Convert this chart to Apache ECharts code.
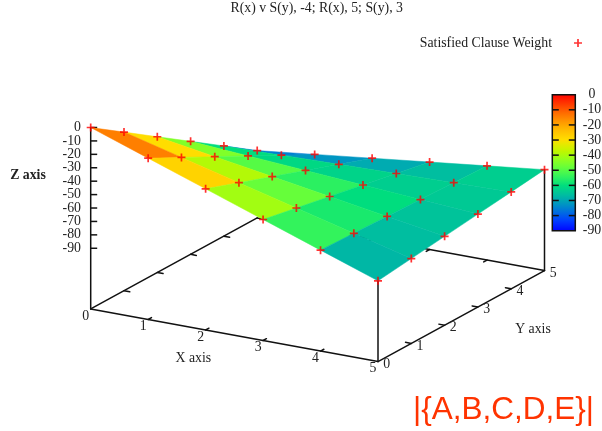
<!DOCTYPE html>
<html>
<head>
<meta charset="utf-8">
<style>html,body{margin:0;padding:0;background:#fff}#chart{width:602px;height:431px}</style>
<script src="https://cdn.jsdelivr.net/npm/echarts@6/dist/echarts.min.js"></script>
</head>
<body>
<div id="chart"></div>
<script>
// ---- data ----
const xValues = [0, 1, 2, 3, 4, 5];
const yValues = [0, 1, 2, 3, 4, 5];
const zAtY0 = [0, -15, -30, -45, -60, -75];
const zAtY1 = [-17, -28, -39, -50, -61, -72];
const zAtY2 = [-34, -41, -48, -55, -62, -69];
const zAtY3 = [-51, -54, -57, -60, -63, -66];
const zAtY4 = [-68, -67, -66, -65, -64, -63];
const zAtY5 = [-85, -80, -75, -70, -65, -60];
const xTicks = [0, 1, 2, 3, 4, 5];
const yTicks = [0, 1, 2, 3, 4, 5];
const zTicks = [0, -10, -20, -30, -40, -50, -60, -70, -80, -90];
const chartTitle = 'R(x) v S(y), -4; R(x), 5; S(y), 3';
const seriesName = 'Satisfied Clause Weight';
const cornerNote = '|{A,B,C,D,E}|';

// ---- view transform (orthographic 3D view onto the page's 2D value axes) ----
const zRows = [zAtY0, zAtY1, zAtY2, zAtY3, zAtY4, zAtY5];
const VIEW = { ox: 90.7, oy: 127.5, xdx: 57.46, xdy: 10.53, ydx: 33.3, ydy: -18.2, zdy: -1.342 };
const Z_BASE = -135.2, Z_MIN = -90, Z_MAX = 0;
const project = (x, y, z) => [
  VIEW.ox + VIEW.xdx * x + VIEW.ydx * y,
  VIEW.oy + VIEW.xdy * x + VIEW.ydy * y + VIEW.zdy * z
];
// gnuplot palette rgbformulae 22,13,-31
function palette(z) {
  const t = (z - Z_MIN) / (Z_MAX - Z_MIN);
  const c = v => Math.round(255 * Math.min(1, Math.max(0, v)));
  return 'rgb(' + c(3 * t - 1) + ',' + c(Math.sin(Math.PI * t)) + ',' + c(2 * (1 - t) - 0.84) + ')';
}

const INK = '#111111', TEXT = '#222222', SERIF = '"Liberation Serif","Times New Roman",serif', FS = 13.8, LW = 1.5;

// quads, back to front
const quads = [];
for (let j = yValues.length - 2; j >= 0; j--) {
  for (let i = 0; i < xValues.length - 1; i++) {
    quads.push([i, j, (zRows[j][i] + zRows[j][i + 1] + zRows[j + 1][i] + zRows[j + 1][i + 1]) / 4]);
  }
}
const points = [];
yValues.forEach((y, j) => xValues.forEach((x, i) => points.push(project(x, y, zRows[j][i]))));

// axis frame segments: [x1,y1,z1,x2,y2,z2]
const xM = xTicks[xTicks.length - 1], yM = yTicks[yTicks.length - 1];
const frame = [
  [0, 0, Z_BASE, xM, 0, Z_BASE], [xM, 0, Z_BASE, xM, yM, Z_BASE],
  [xM, yM, Z_BASE, 0, yM, Z_BASE], [0, yM, Z_BASE, 0, 0, Z_BASE],
  [0, 0, Z_BASE, 0, 0, zRows[0][0]],
  [xM, 0, Z_BASE, xM, 0, zRows[0][xM]],
  [xM, yM, Z_BASE, xM, yM, zRows[yM][xM]]
];
xTicks.slice(1, -1).forEach(t => {
  frame.push([t, 0, Z_BASE, t, 0.1, Z_BASE]);
  frame.push([t, yM, Z_BASE, t, yM - 0.1, Z_BASE]);
});
yTicks.slice(1, -1).forEach(t => {
  frame.push([0, t, Z_BASE, 0.1, t, Z_BASE]);
  frame.push([xM, t, Z_BASE, xM - 0.1, t, Z_BASE]);
});

// colour bar geometry
const BAR = { l: 552.3, r: 575.3, t: 94.7, b: 230.7 };
const barY = z => BAR.t + (Z_MAX - z) / (Z_MAX - Z_MIN) * (BAR.b - BAR.t);

// text labels: [text, px, py, align, baseline, bold]
const labels = [];
xTicks.forEach(t => { const p = project(t, 0, Z_BASE); labels.push([String(t), p[0] - 5, p[1] + 7, 'center', 'middle', 0]); });
yTicks.forEach(t => { const p = project(xM, t, Z_BASE); labels.push([String(t), p[0] + 8.7, p[1] + 2.5, 'center', 'middle', 0]); });
zTicks.forEach(t => { const p = project(0, 0, t); labels.push([String(t), 81, p[1], 'right', 'middle', 0]); });
zTicks.forEach(t => { labels.push([String(t), 592, barY(t), 'center', 'middle', 0]); });
labels.push(['X axis', 193.3, 358.3, 'center', 'middle', 0]);
labels.push(['Y axis', 533, 329.7, 'center', 'middle', 0]);
labels.push(['Z axis', 28, 175.7, 'center', 'middle', 1]);

const PLUS = 'path://M3.15 0H4.85V3.15H8V4.85H4.85V8H3.15V4.85H0V3.15H3.15Z';

const chart = echarts.init(document.getElementById('chart'));
chart.setOption({
  animation: false,
  backgroundColor: '#fff',
  title: {
    text: chartTitle, left: 230.5, top: 1, padding: 0,
    textStyle: { fontFamily: SERIF, fontSize: FS, fontWeight: 'normal', color: TEXT }
  },
  legend: {
    data: [{ name: seriesName, icon: PLUS }],
    right: 15, top: 31, align: 'right', selectedMode: false,
    itemWidth: 42, itemHeight: 8,
    textStyle: { fontFamily: SERIF, fontSize: FS, color: TEXT, padding: [0, 0, 0, 0] }
  },
  grid: { left: 0, right: 0, top: 0, bottom: 0 },
  xAxis: { type: 'value', min: 0, max: 602, show: false },
  yAxis: { type: 'value', min: 0, max: 431, inverse: true, show: false },
  graphic: [{
    type: 'text', left: 413, top: 394.5, silent: true,
    style: { text: cornerNote, fontFamily: '"Liberation Sans",Arial,sans-serif', fontSize: 31.5, fill: '#ff3300' }
  }],
  series: [
    {
      type: 'custom', name: 'frame', coordinateSystem: 'cartesian2d', silent: true, clip: false, z: 1,
      data: frame,
      renderItem: (p, api) => {
        const a = api.coord(project(api.value(0), api.value(1), api.value(2)));
        const b = api.coord(project(api.value(3), api.value(4), api.value(5)));
        return { type: 'line', shape: { x1: a[0], y1: a[1], x2: b[0], y2: b[1] },
                 style: { stroke: INK, lineWidth: LW, lineCap: 'round' } };
      }
    },
    {
      type: 'custom', name: 'surface', coordinateSystem: 'cartesian2d', silent: true, clip: false, z: 2,
      data: quads,
      renderItem: (p, api) => {
        const i = api.value(0), j = api.value(1), col = palette(api.value(2));
        const pts = [[i, j], [i + 1, j], [i + 1, j + 1], [i, j + 1]]
          .map(c => api.coord(project(xValues[c[0]], yValues[c[1]], zRows[c[1]][c[0]])));
        return { type: 'polygon', shape: { points: pts }, style: { fill: col, stroke: col, lineWidth: 0.5 } };
      }
    },
    {
      type: 'custom', name: 'colorbar', coordinateSystem: 'cartesian2d', silent: true, clip: false, z: 2,
      data: [[0]],
      renderItem: (p, api) => {
        const tl = api.coord([BAR.l, BAR.t]), br = api.coord([BAR.r, BAR.b]);
        const stops = [];
        for (let k = 0; k <= 60; k++) stops.push({ offset: k / 60, color: palette(Z_MAX - (Z_MAX - Z_MIN) * k / 60) });
        const children = [{
          type: 'rect', shape: { x: tl[0], y: tl[1], width: br[0] - tl[0], height: br[1] - tl[1] },
          style: { fill: new echarts.graphic.LinearGradient(0, 0, 0, 1, stops), stroke: INK, lineWidth: LW }
        }];
        zTicks.slice(1, -1).forEach(t => {
          const y = api.coord([0, barY(t)])[1];
          children.push({ type: 'line', shape: { x1: tl[0], y1: y, x2: tl[0] + 6.5, y2: y }, style: { stroke: INK, lineWidth: LW } });
          children.push({ type: 'line', shape: { x1: br[0] - 6.5, y1: y, x2: br[0], y2: y }, style: { stroke: INK, lineWidth: LW } });
        });
        return { type: 'group', children };
      }
    },
    {
      type: 'custom', name: 'zticks', coordinateSystem: 'cartesian2d', silent: true, clip: false, z: 1,
      data: zTicks.map(t => [t]),
      renderItem: (p, api) => {
        const a = api.coord(project(0, 0, api.value(0)));
        return { type: 'line', shape: { x1: a[0], y1: a[1], x2: a[0] + 6.5, y2: a[1] }, style: { stroke: INK, lineWidth: LW } };
      }
    },
    {
      type: 'custom', name: 'labels', coordinateSystem: 'cartesian2d', silent: true, clip: false, z: 5,
      data: labels.map((l, i) => [l[1], l[2], i]),
      renderItem: (p, api) => {
        const l = labels[api.value(2)], c = api.coord([api.value(0), api.value(1)]);
        return { type: 'text', x: c[0], y: c[1],
                 style: { text: l[0], textAlign: l[3], textVerticalAlign: l[4], verticalAlign: l[4], align: l[3],
                          fontFamily: SERIF, fontSize: FS, fontWeight: l[5] ? 'bold' : 'normal', fill: TEXT } };
      }
    },
    {
      type: 'scatter', name: seriesName, coordinateSystem: 'cartesian2d', silent: true, z: 6, clip: false,
      symbol: PLUS, symbolSize: 8, itemStyle: { color: '#ff0000' },
      data: points
    }
  ]
});
</script>
</body>
</html>
